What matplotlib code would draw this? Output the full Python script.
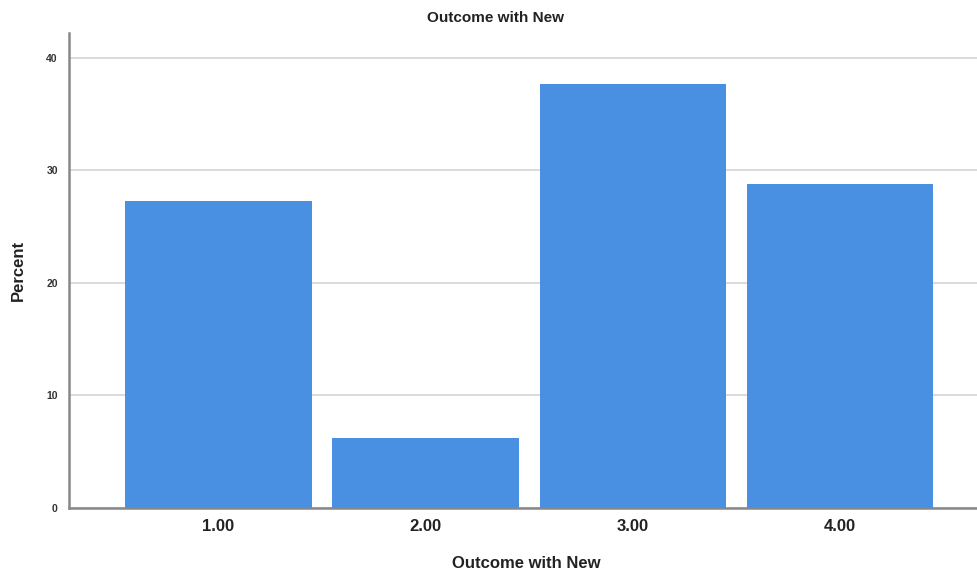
import matplotlib
matplotlib.use("Agg")
import matplotlib.pyplot as plt

plt.rcParams["font.family"] = ["Liberation Sans", "DejaVu Sans"]

categories = ["1.00", "2.00", "3.00", "4.00"]
positions = [1, 2, 3, 4]
percent = [27.3, 6.2, 37.7, 28.75]

BAR_COLOR = "#4a90e2"

fig = plt.figure(figsize=(9.77, 5.76), dpi=100)
ax = fig.add_axes([0.0706, 0.1186, 0.9294, 0.8241])

ax.bar(positions, percent, width=0.9, color=BAR_COLOR, zorder=3)

ax.set_xlim(0.28, 4.66)
ax.set_ylim(0, 42.2)
ax.set_yticks([0, 10, 20, 30, 40])
ax.set_xticks(positions)
ax.set_xticklabels(categories, fontsize=12, fontweight="bold", color="#222222")
for lbl in ax.get_yticklabels():
    lbl.set_fontsize(7.5)
    lbl.set_fontweight("bold")
    lbl.set_color("#333333")
ax.tick_params(axis="both", length=0)
ax.tick_params(axis="x", pad=8)
ax.tick_params(axis="y", pad=8)

ax.grid(axis="y", color="#d4d4d4", linewidth=1.2, zorder=0)
for side in ["top", "right"]:
    ax.spines[side].set_visible(False)
for side in ["left", "bottom"]:
    ax.spines[side].set_color("#888888")
    ax.spines[side].set_linewidth(1.8)
    ax.spines[side].set_zorder(4)

fig.text(0.507, 0.968, "Outcome with New", ha="center", va="center",
         fontsize=11, fontweight="bold", color="#222222")
fig.text(0.539, 0.022, "Outcome with New", ha="center", va="center",
         fontsize=12, fontweight="bold", color="#222222")
fig.text(0.019, 0.53, "Percent", ha="center", va="center", rotation=90,
         fontsize=12, fontweight="bold", color="#222222")

fig.savefig("out.png", dpi=100)
